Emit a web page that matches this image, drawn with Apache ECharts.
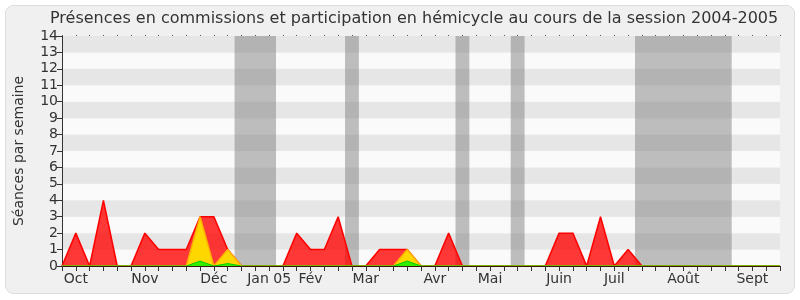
<!DOCTYPE html>
<html><head><meta charset="utf-8">
<script src="https://cdn.jsdelivr.net/npm/echarts@6/dist/echarts.min.js"></script>
<style>html,body{margin:0;padding:0;background:#fff}#c{width:800px;height:300px}</style>
</head><body><div id="c"></div>
<script>
var titleText = 'Présences en commissions et participation en hémicycle au cours de la session 2004-2005';
var yAxisName = 'Séances par semaine';
// week index 0..52
var monthLabels = ['Oct','Nov','Déc','Jan 05','Fév','Mar','Avr','Mai','Juin','Juil','Août','Sept'];
var monthLabelWeek = [1,6,11,15,18,22,27,31,36,40,45,50];
var presenceRed = [0,2,0,4,0,0,2,1,1,1,3,3,1,0,0,0,0,2,1,1,3,0,0,1,1,1,0,0,2,0,0,0,0,0,0,0,2,2,0,3,0,1,0,0,0,0,0,0,0,0,0,0,0];
var commissionYellow = [0,0,0,0,0,0,0,0,0,0,3,0,1,0,0,0,0,0,0,0,0,0,0,0,0,1,0,0,0,0,0,0,0,0,0,0,0,0,0,0,0,0,0,0,0,0,0,0,0,0,0,0,0];
var interventionGreen = [0,0,0,0,0,0,0,0,0,0,0.3,0,0.15,0,0,0,0,0,0,0,0,0,0,0,0,0.3,0,0,0,0,0,0,0,0,0,0,0,0,0,0,0,0,0,0,0,0,0,0,0,0,0,0,0];
var vacationStart = [12.5,20.5,28.5,32.5,41.5];
var vacationEnd = [15.5,21.5,29.5,33.5,48.5];

function pairs(arr){ return arr.map(function(v,i){return [i,v];}); }
var bands = vacationStart.map(function(s,i){ return [{xAxis:s},{xAxis:vacationEnd[i]}]; });
var FONT = 'DejaVu Sans';
var chart = echarts.init(document.getElementById('c'), null, {renderer:'canvas'});
chart.setOption({
  animation:false,
  backgroundColor:'#ffffff',
  graphic:[{type:'rect', z:-10, shape:{x:5.5,y:5.5,width:789,height:288,r:8}, style:{fill:'#f0f0f0', stroke:'#dddddd', lineWidth:1}}],
  title:{text:titleText, left:45, top:6, textStyle:{fontFamily:FONT, fontSize:16, fontWeight:'normal', color:'#333'}},
  grid:{left:62, right:20, top:36, bottom:34},
  xAxis:[{
    type:'value', min:0, max:52, interval:1, z:5,
    axisLine:{show:true, lineStyle:{color:'#3a1808', width:1}},
    axisTick:{show:true, length:5, lineStyle:{color:'#333'}},
    axisLabel:{show:true, fontFamily:FONT, fontSize:14, color:'#333', margin:6,
      formatter:function(v){ var k = monthLabelWeek.indexOf(Math.round(v)); return k>=0 ? monthLabels[k] : ''; }},
    splitLine:{show:false}
  },{
    type:'value', position:'top', min:0, max:52, interval:1,
    axisLine:{show:false}, axisLabel:{show:false}, splitLine:{show:false},
    axisTick:{show:true, length:1, lineStyle:{color:'#555'}}
  }],
  yAxis:{
    type:'value', min:0, max:14, interval:1,
    name:yAxisName, nameLocation:'middle', nameGap:36,
    nameTextStyle:{fontFamily:FONT, fontSize:14, color:'#333'},
    axisLine:{show:true, lineStyle:{color:'#333'}},
    axisTick:{show:true, length:5, lineStyle:{color:'#333'}},
    axisLabel:{fontFamily:FONT, fontSize:14, color:'#333', margin:4},
    splitLine:{show:false},
    splitArea:{show:true, areaStyle:{color:['#fafafa','#e6e6e6']}}
  },
  series:[
    {type:'line', data:[], z:1, silent:true,
      markArea:{silent:true, itemStyle:{color:'rgba(128,128,128,0.5)'}, data:bands}},
    {name:'red', type:'line', data:pairs(presenceRed), symbol:'none', z:2,
      lineStyle:{color:'#ff0000', width:1.5}, areaStyle:{color:'rgba(255,0,0,0.78)', opacity:1}},
    {name:'yellow', type:'line', data:pairs(commissionYellow), symbol:'none', z:3,
      lineStyle:{color:'#ffb000', width:1.5}, areaStyle:{color:'#ffd700', opacity:1}},
    {name:'green', type:'line', data:pairs(interventionGreen), symbol:'none', z:4,
      lineStyle:{color:'#00cc00', width:1}, areaStyle:{color:'#33ee00', opacity:1}}
  ]
});
</script></body></html>
